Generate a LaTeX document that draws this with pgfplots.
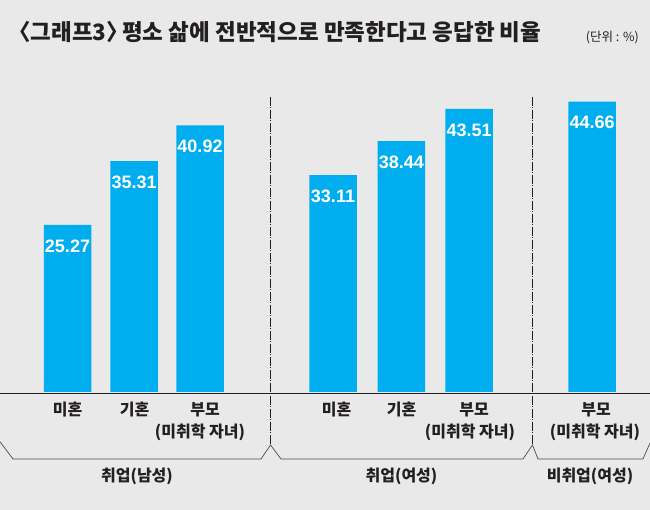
\documentclass[border=0pt]{standalone}
\usepackage{pgfplots}
\pgfplotsset{compat=1.18}
\usepackage{pgfplotstable}
\usepackage{fontspec}
\setmainfont{Liberation Sans}
\newfontfamily\kr{Noto Sans CJK KR}
\definecolor{bg}{HTML}{E9E9E9}
\definecolor{barc}{HTML}{00AEEF}
\definecolor{txt}{HTML}{231F20}
\pgfplotstableread{
x v
67.5 25.27
134.2 35.31
200 40.92
333 33.11
401.3 38.44
469.2 43.51
592.2 44.66
}\data
\begin{document}
\begin{tikzpicture}[x=1pt,y=1pt]
\useasboundingbox (0,0) rectangle (650,510);
\fill[bg] (0,0) rectangle (650,510);
\begin{axis}[
  at={(0pt,118pt)}, anchor=south west,
  scale only axis, width=650pt, height=392pt,
  xmin=0, xmax=650, ymin=0, ymax=61.64,
  hide axis, clip=false,
  ybar, bar width=47.5pt,
  point meta=explicit symbolic,
  nodes near coords,
  every node near coord/.append style={anchor=center, yshift=-21pt, text=white, font=\fontsize{18}{20}\selectfont\bfseries},
]
\addplot[fill=barc, draw=none] table[x=x, y expr=\thisrow{v}+0.99, meta=v]{\data};
\end{axis}
% baseline
\draw[txt, line width=0.9pt] (0,117) -- (650,117);
% separators
\draw[txt, line width=0.8pt, dash pattern=on 9pt off 1.5pt on 1pt off 1.5pt] (270.5,413) -- (270.5,65);
\draw[txt, line width=0.8pt, dash pattern=on 9pt off 1.5pt on 1pt off 1.5pt] (532.5,413) -- (532.5,65);
% brackets
\draw[txt!80, line width=0.7pt] (0,68.3) -- (13,51) -- (261,51) -- (270.5,65) -- (281,51) -- (523,51) -- (532.5,65) -- (538,51) -- (643,51) -- (650,67);
% title
\node[anchor=west, text=txt, font=\kr\fontsize{22.5}{24}\selectfont\bfseries, inner sep=0pt] at (8,478) {〈그래프3〉\hspace{-0.3em}평소 삶에 전반적으로 만족한다고 응답한 비율};
\node[anchor=east, text=txt, font=\kr\fontsize{12.5}{14}\selectfont, inner sep=0pt] at (639,472) {(단위 : \%)};
% category labels
\begin{scope}[every node/.style={text=txt, font=\kr\fontsize{16}{18}\selectfont\bfseries, inner sep=0pt, anchor=center}]
\node at (67.5,100) {미혼};
\node at (134.5,100) {기혼};
\node at (205,100) {부모};
\node at (200,78) {(미취학 자녀)};
\node at (336.5,100) {미혼};
\node at (401.5,100) {기혼};
\node at (474,100) {부모};
\node at (470,78) {(미취학 자녀)};
\node at (596,100) {부모};
\node at (595,78) {(미취학 자녀)};
\node at (137,33.3) {취업(남성)};
\node at (401.5,33.3) {취업(여성)};
\node at (590,33.3) {비취업(여성)};
\end{scope}
\end{tikzpicture}
\end{document}
